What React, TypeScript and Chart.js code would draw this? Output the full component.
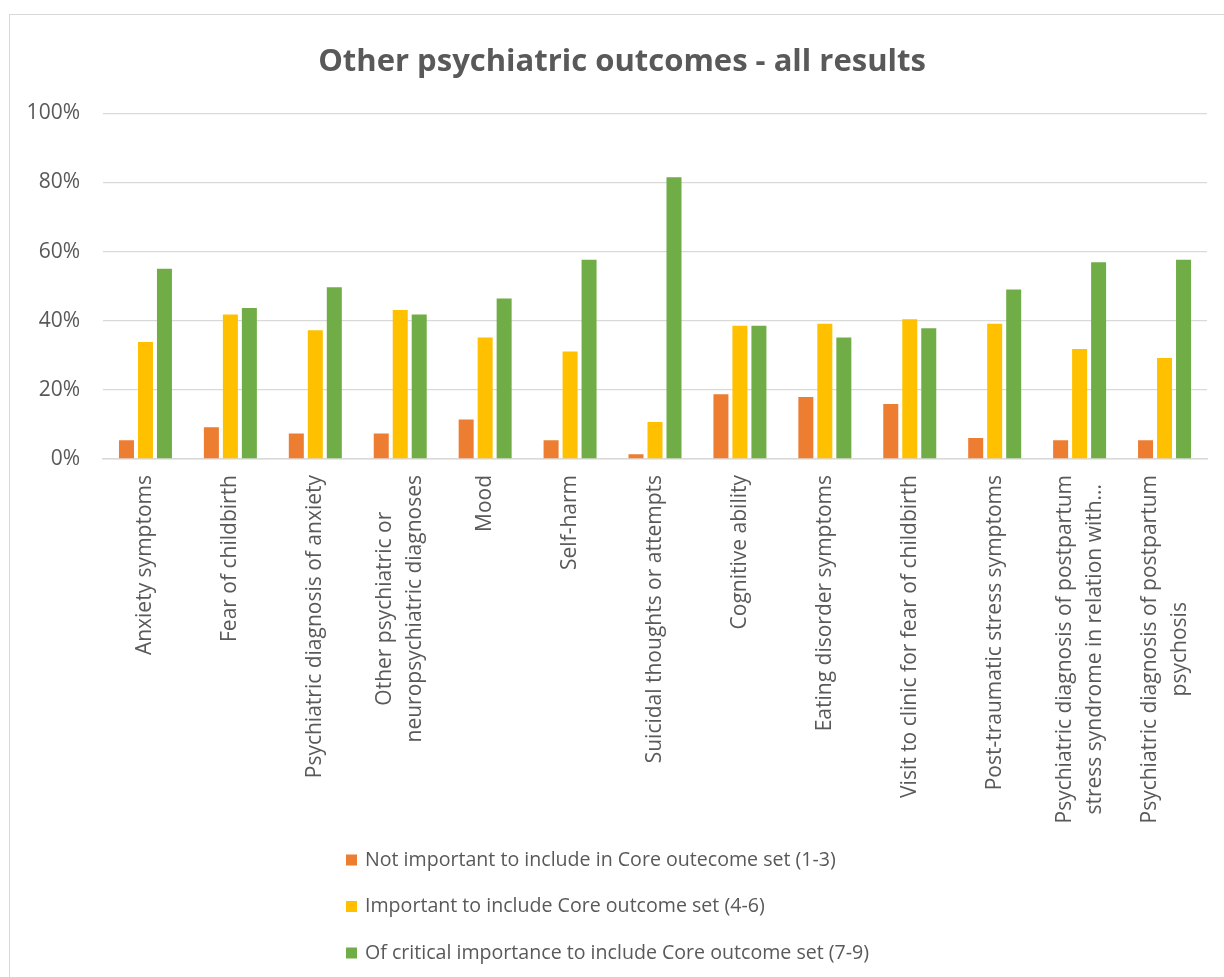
import React, { useEffect, useRef } from "react";
import { Chart, registerables } from "chart.js";

Chart.register(...registerables);

const FONT = "'Open Sans', 'DejaVu Sans', sans-serif";
const TEXT = "#595959";
const GRID = "#d9d9d9";

const categories: string[][] = [
  ["Anxiety symptoms"],
  ["Fear of childbirth"],
  ["Psychiatric diagnosis of anxiety"],
  ["Other psychiatric or", "neuropsychiatric diagnoses"],
  ["Mood"],
  ["Self-harm"],
  ["Suicidal thoughts or attempts"],
  ["Cognitive ability"],
  ["Eating disorder symptoms"],
  ["Visit to clinic for fear of childbirth"],
  ["Post-traumatic stress symptoms"],
  ["Psychiatric diagnosis of postpartum", "stress syndrome in relation with..."],
  ["Psychiatric diagnosis of postpartum", "psychosis"],
];

const seriesNames = [
  "Not important to include in Core outecome set (1-3)",
  "Important to include Core outcome set (4-6)",
  "Of critical importance to include Core outcome set (7-9)",
];
const seriesColors = ["#ED7D31", "#FFC000", "#70AD47"];

const notImportant = [5.4, 9.2, 7.4, 7.4, 11.4, 5.4, 1.4, 18.7, 17.9, 15.9, 6.1, 5.4, 5.4];
const important = [33.8, 41.8, 37.2, 43.1, 35.1, 31.1, 10.7, 38.5, 39.1, 40.4, 39.1, 31.8, 29.2];
const critical = [55.0, 43.7, 49.7, 41.8, 46.4, 57.6, 81.5, 38.5, 35.1, 37.8, 49.0, 56.9, 57.6];

const yMin = 0;
const yMax = 100;
const yStep = 20;

const titleText = "Other psychiatric outcomes - all results";

const titleShiftPlugin = {
  id: "titleShift",
  afterLayout(chart: any) {
    const t = chart.titleBlock;
    if (t) {
      t.left = 37;
    }
  },
};

const xLabelPlugin = {
  id: "xLabels",
  afterDraw(chart: any) {
    const xs = chart.scales.x;
    const ctx = chart.ctx;
    const lineGap = 30;
    ctx.save();
    ctx.font = `21px ${FONT}`;
    ctx.fillStyle = TEXT;
    (chart.data.labels as string[][]).forEach((lines, i) => {
      const px = xs.getPixelForTick(i);
      const W = Math.max(...lines.map((l) => ctx.measureText(l).width));
      const n = lines.length;
      lines.forEach((line, j) => {
        const x = px + (j - (n - 1) / 2) * lineGap;
        ctx.save();
        ctx.translate(x, xs.top + 16);
        ctx.rotate(-Math.PI / 2);
        ctx.textAlign = "center";
        ctx.textBaseline = "middle";
        ctx.fillText(line, -W / 2, 0);
        ctx.restore();
      });
    });
    ctx.restore();
  },
};

const legendPlugin = {
  id: "stackedLegend",
  afterDraw(chart: any) {
    const ctx = chart.ctx;
    const x0 = 346;
    const y0 = 860;
    const gap = 46.5;
    ctx.save();
    ctx.font = `19.6px ${FONT}`;
    ctx.textBaseline = "middle";
    ctx.textAlign = "left";
    chart.data.datasets.forEach((ds: any, i: number) => {
      const y = y0 + i * gap;
      ctx.fillStyle = ds.backgroundColor;
      ctx.fillRect(x0, y - 5.5, 11, 11);
      ctx.fillStyle = TEXT;
      ctx.fillText(ds.label, x0 + 19, y);
    });
    ctx.restore();
  },
};

export default function App() {
  const canvasRef = useRef<HTMLCanvasElement | null>(null);

  useEffect(() => {
    if (!canvasRef.current) return;
    const seriesValues = [notImportant, important, critical];
    const chart = new Chart(canvasRef.current, {
      type: "bar",
      data: {
        labels: categories,
        datasets: seriesNames.map((name, i) => ({
          label: name,
          data: seriesValues[i],
          backgroundColor: seriesColors[i],
          borderWidth: 0,
          categoryPercentage: 0.671,
          barPercentage: 0.79,
        })),
      },
      options: {
        responsive: false,
        animation: false,
        devicePixelRatio: 1,
        layout: { padding: { left: 14, right: 17, top: 14, bottom: 147 } },
        plugins: {
          legend: { display: false },
          tooltip: { enabled: false },
          title: {
            display: true,
            text: titleText,
            color: TEXT,
            font: { family: FONT, size: 31, weight: "bold" },
            padding: { top: 30, bottom: 32 },
          },
        },
        scales: {
          x: {
            grid: { display: false },
            border: { color: GRID, width: 1.5 },
            ticks: { display: false },
            afterFit: (s: any) => {
              s.height = 371;
            },
          },
          y: {
            min: yMin,
            max: yMax,
            grid: { color: GRID, lineWidth: 1.3, drawTicks: false },
            border: { display: false },
            ticks: {
              stepSize: yStep,
              padding: 23,
              color: TEXT,
              font: { family: FONT, size: 21 },
              callback: (v: any) => `${v}%`,
            },
            afterFit: (s: any) => {
              s.width = 89;
            },
          },
        },
      },
      plugins: [titleShiftPlugin, xLabelPlugin, legendPlugin],
    });
    return () => chart.destroy();
  }, []);

  return (
    <div style={{ position: "fixed", left: 0, top: 0, width: 1224, height: 977, overflow: "hidden", background: "#fff" }}>
      <div
        style={{
          position: "absolute",
          left: 9,
          top: 14,
          width: 1240,
          height: 1000,
          border: `1.5px solid ${GRID}`,
          boxSizing: "border-box",
        }}
      />
      <canvas ref={canvasRef} width={1224} height={977} style={{ position: "absolute", left: 0, top: 0 }} />
    </div>
  );
}
